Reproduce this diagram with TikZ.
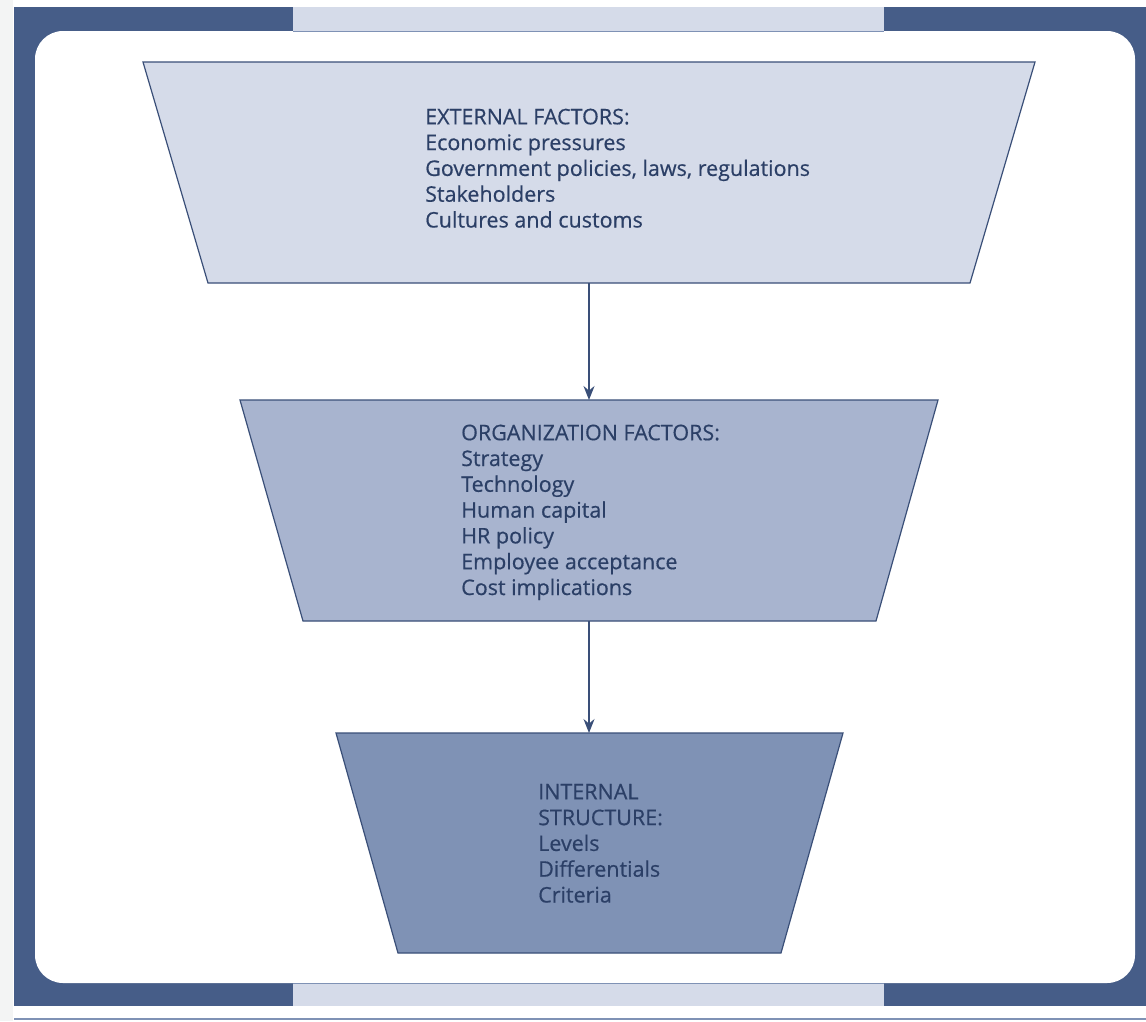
\documentclass[tikz,border=0pt]{standalone}
\usepackage{fontspec}
\setmainfont[FakeBold=0.5]{Open Sans}
\usetikzlibrary{arrows.meta}
\definecolor{frameblue}{HTML}{465D88}
\definecolor{paleblue}{HTML}{D5DBE9}
\definecolor{midblue}{HTML}{A8B4CF}
\definecolor{deepblue}{HTML}{7F92B5}
\definecolor{inkblue}{HTML}{2B3F66}
\definecolor{edgeblue}{HTML}{3A4F78}
\definecolor{sidegrey}{HTML}{F3F4F4}
\tikzset{
  trap/.style={draw=edgeblue, line width=1.2pt, line join=miter},
  label/.style={anchor=base west, align=left, text=inkblue, inner sep=0pt,
    font=\fontsize{21.5}{25.8}\selectfont},
  arr/.style={draw=edgeblue, line width=1.5pt, -{Stealth[length=14pt,width=11pt]}}
}
\begin{document}
\begin{tikzpicture}[x=1pt,y=-1pt]
\useasboundingbox (0,0) rectangle (1146,1021);
\fill[white] (0,0) rectangle (1146,1021);
\fill[sidegrey] (0,0) rectangle (13,1021);
% frame
\fill[frameblue] (14,7) rectangle (1146,1006);
\fill[paleblue] (293,7) rectangle (884,31);
\fill[paleblue] (293,983) rectangle (884,1006);
\fill[white, rounded corners=28pt] (35,31) rectangle (1135,983);
\draw[deepblue, line width=1pt] (293,31) -- (884,31);
\draw[deepblue, line width=1pt] (293,983) -- (884,983);
\draw[deepblue, line width=1.5pt] (14,1019) -- (1146,1019);
% trapezoids
\draw[trap, fill=paleblue] (143,62) -- (1035,62) -- (970,283) -- (208,283) -- cycle;
\draw[trap, fill=midblue] (240,400) -- (938,400) -- (876,621) -- (303,621) -- cycle;
\draw[trap, fill=deepblue] (336,733) -- (843,733) -- (781,953) -- (398,953) -- cycle;
\coordinate (ext-s) at (589,283);
\coordinate (org-n) at (589,400);
\coordinate (org-s) at (589,621);
\coordinate (int-n) at (589,733);
% texts (anchored at the baseline of the last line)
\node[label] (ext) at (425,227.5) {EXTERNAL FACTORS:\\Economic pressures\\Government policies, laws, regulations\\Stakeholders\\Cultures and customs};
\node[label] (org) at (461,595) {ORGANIZATION FACTORS:\\Strategy\\Technology\\Human capital\\HR policy\\Employee acceptance\\Cost implications};
\node[label] (int) at (538,902.5) {INTERNAL\\STRUCTURE:\\Levels\\Differentials\\Criteria};
% connectors
\draw[arr] (ext-s) -- (org-n);
\draw[arr] (org-s) -- (int-n);
\end{tikzpicture}
\end{document}
